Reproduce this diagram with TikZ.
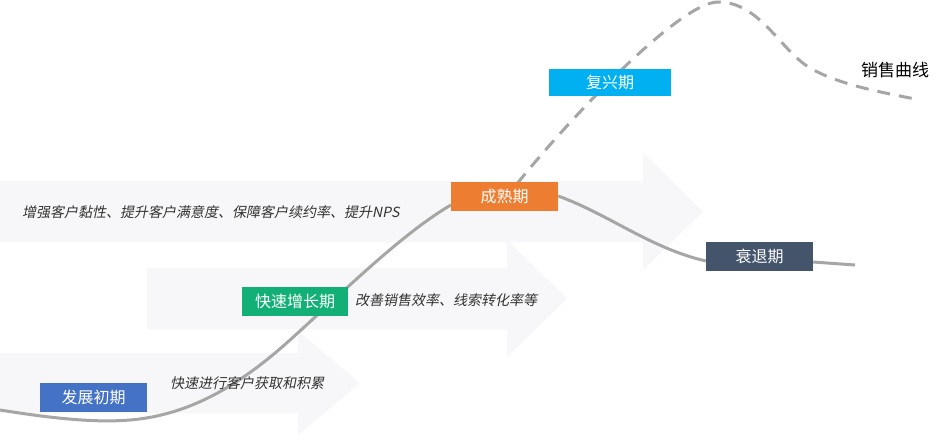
\documentclass[tikz,border=0pt]{standalone}
\usepackage{fontspec}
\newfontfamily\cjk{Noto Sans CJK SC}
\newfontfamily\cjkit{Noto Sans CJK SC}[FakeSlant=0.2]
\pgfdeclarelayer{paper}
\pgfdeclarelayer{arrows}
\pgfdeclarelayer{curves}
\pgfsetlayers{paper,arrows,curves,main}
\definecolor{arrowbg}{HTML}{F7F7F9}
\definecolor{cblue}{HTML}{4472C4}
\definecolor{cgreen}{HTML}{12B076}
\definecolor{corange}{HTML}{ED7D31}
\definecolor{csky}{HTML}{00B0F0}
\definecolor{cslate}{HTML}{44546A}
\definecolor{curvegray}{HTML}{A6A6A6}
\definecolor{txt}{HTML}{333333}
\tikzset{
  stagebox/.style={fill=#1, text=white, inner sep=0pt, minimum width=107pt, minimum height=29pt,
    font=\cjk\fontsize{16}{16}\selectfont},
  desc/.style={anchor=west, inner sep=0pt, text=txt, font=\cjkit\fontsize{14}{14}\selectfont},
  bigarrow/.style={fill=arrowbg, draw=none},
  salesline/.style={draw=curvegray, line width=3pt},
  dashline/.style={draw=curvegray, line width=3pt, dash pattern=on 13pt off 9pt},
}
\begin{document}
\begin{tikzpicture}[x=1pt, y=-1pt]
\useasboundingbox (0,0) rectangle (944,445);
\begin{pgfonlayer}{paper}
\fill[white] (0,0) rectangle (944,445);
\end{pgfonlayer}

% background arrows
\begin{pgfonlayer}{arrows}
\fill[bigarrow] (0,353) -- (298,353) -- (298,331) -- (360,383) -- (298,435) -- (298,413) -- (0,413) -- cycle;
\fill[bigarrow] (147,268) -- (507,268) -- (507,240) -- (567,298.5) -- (507,357) -- (507,329) -- (147,329) -- cycle;
\fill[bigarrow] (0,181) -- (643,181) -- (643,153) -- (703,211.5) -- (643,270) -- (643,242) -- (0,242) -- cycle;
\end{pgfonlayer}

% stage boxes
\node[stagebox=cblue] (s1) at (93.5,397.5) {发展初期};
\node[stagebox=cgreen, minimum width=106pt] (s2) at (295,301.5) {快速增长期};
\node[stagebox=corange] (s3) at (504.5,196.5) {成熟期};
\node[stagebox=csky, minimum width=122pt, minimum height=27pt] (s4) at (610,82.5) {复兴期};
\node[stagebox=cslate] (s5) at (759.5,256.5) {衰退期};

% descriptions
\node[desc] (d1) at (170,383) {快速进行客户获取和积累};
\node[desc] (d2) at (355,300) {改善销售效率、线索转化率等};
\node[desc] (d3) at (22,212) {增强客户黏性、提升客户满意度、保障客户续约率、提升NPS};

% label
\node[inner sep=0pt, text=black, font=\cjk\fontsize{17}{17}\selectfont] (lbl) at (895,70) {销售曲线};

% curves
\coordinate (c0) at (0,410);
\coordinate (c9) at (855,265);
\coordinate (dEnd) at (920,100);
\begin{pgfonlayer}{curves}
\draw[salesline] (c0) .. controls (50,418) and (94,423) .. (130,420)
  .. controls (190,415) and (240,385) .. (290,340)
  .. controls (340,295) and (400,235) .. ([yshift=-8.5pt]s3.west);
\draw[salesline] ([yshift=0.5pt]s3.east) .. controls (610,215) and (650,248) .. ([yshift=-4.5pt]s5.west);
\draw[salesline] ([yshift=-5.5pt]s5.east) -- (c9);
\draw[dashline] ([xshift=12.5pt,yshift=-2pt]s3.north) .. controls (570,118) and (680,2) .. (718,2)
  .. controls (760,2) and (780,50) .. (810,68)
  .. controls (840,85) and (880,92) .. (dEnd);
\end{pgfonlayer}
\end{tikzpicture}
\end{document}
